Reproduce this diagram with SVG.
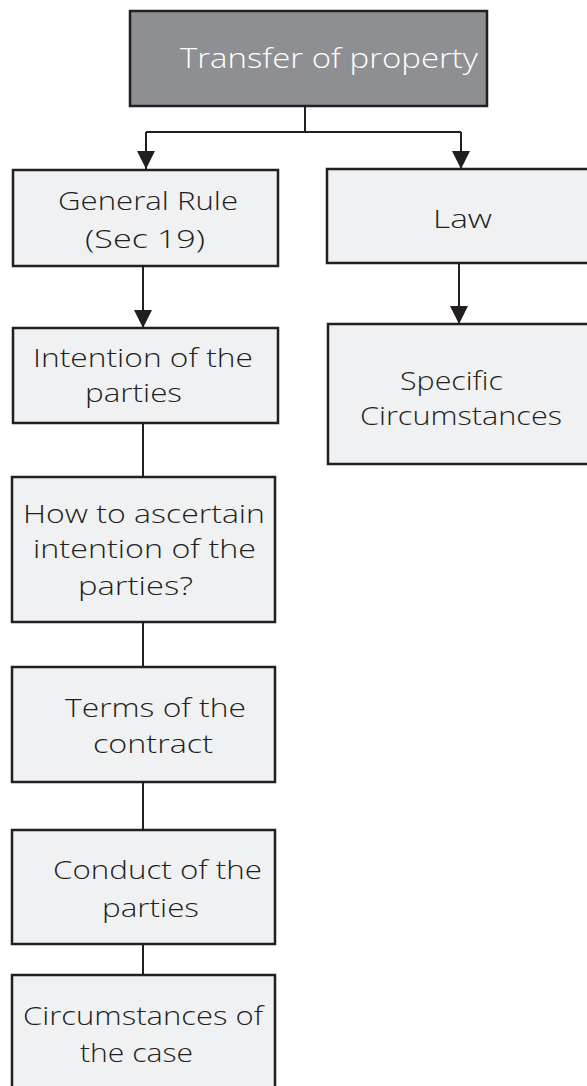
<svg xmlns="http://www.w3.org/2000/svg" width="587" height="1086" viewBox="0 0 587 1086">
  <style>
    .box { fill: #f0f1f3; stroke: #231f20; stroke-width: 2.5; }
    .root { fill: #8e8f93; stroke: #231f20; stroke-width: 2.5; }
    .lbl { font-family: "Open Sans", "Liberation Sans", sans-serif; font-weight: 300; font-size: 26px; fill: #231f20; }
    .lbl-w { font-family: "Open Sans", "Liberation Sans", sans-serif; font-weight: 300; font-size: 27px; fill: #ffffff; }
    .wire { fill: none; stroke: #231f20; stroke-width: 2; }
  </style>
  <defs>
    <marker id="arrow" markerUnits="userSpaceOnUse" markerWidth="18" markerHeight="18" viewBox="0 0 18 18" refX="18" refY="9" orient="auto">
      <path d="M0,0 L18,9 L0,18 Z" fill="#231f20"/>
    </marker>
  </defs>
  <rect width="587" height="1086" fill="#ffffff"/>

  <!-- connectors -->
  <g id="connectors">
    <path class="wire" d="M305,106 V132 M146,132 H461"/>
    <path class="wire" d="M146,132 V169" marker-end="url(#arrow)"/>
    <path class="wire" d="M461,132 V169" marker-end="url(#arrow)"/>
    <path class="wire" d="M143,266 V328" marker-end="url(#arrow)"/>
    <path class="wire" d="M459,263 V324" marker-end="url(#arrow)"/>
    <path class="wire" d="M143,423 V477 M143,622 V667 M143,782 V830 M143,944 V975"/>
  </g>

  <g id="node-transfer">
    <rect class="root" x="130" y="11" width="357" height="95"/>
    <text class="lbl-w" x="180" y="68" textLength="298" lengthAdjust="spacingAndGlyphs">Transfer of property</text>
  </g>

  <g id="node-general-rule">
    <rect class="box" x="13" y="170" width="265" height="96"/>
    <text class="lbl" x="58" y="210" textLength="180" lengthAdjust="spacingAndGlyphs">General Rule</text>
    <text class="lbl" x="85" y="248" textLength="120" lengthAdjust="spacingAndGlyphs">(Sec 19)</text>
  </g>

  <g id="node-law">
    <rect class="box" x="327" y="169" width="264" height="94"/>
    <text class="lbl" x="433" y="228" textLength="59" lengthAdjust="spacingAndGlyphs">Law</text>
  </g>

  <g id="node-specific">
    <rect class="box" x="328" y="324" width="263" height="140"/>
    <text class="lbl" x="400" y="390" textLength="103" lengthAdjust="spacingAndGlyphs">Specific</text>
    <text class="lbl" x="360" y="425" textLength="202" lengthAdjust="spacingAndGlyphs">Circumstances</text>
  </g>

  <g id="node-intention">
    <rect class="box" x="13" y="328" width="265" height="95"/>
    <text class="lbl" x="33" y="367" textLength="220" lengthAdjust="spacingAndGlyphs">Intention of the</text>
    <text class="lbl" x="85" y="402" textLength="97" lengthAdjust="spacingAndGlyphs">parties</text>
  </g>

  <g id="node-ascertain">
    <rect class="box" x="12" y="477" width="263" height="145"/>
    <text class="lbl" x="23" y="523" textLength="242" lengthAdjust="spacingAndGlyphs">How to ascertain</text>
    <text class="lbl" x="33" y="558" textLength="223" lengthAdjust="spacingAndGlyphs">intention of the</text>
    <text class="lbl" x="78" y="595" textLength="115" lengthAdjust="spacingAndGlyphs">parties?</text>
  </g>

  <g id="node-terms">
    <rect class="box" x="12" y="667" width="263" height="115"/>
    <text class="lbl" x="65" y="717" textLength="181" lengthAdjust="spacingAndGlyphs">Terms of the</text>
    <text class="lbl" x="93" y="753" textLength="120" lengthAdjust="spacingAndGlyphs">contract</text>
  </g>

  <g id="node-conduct">
    <rect class="box" x="12" y="830" width="263" height="114"/>
    <text class="lbl" x="53" y="879" textLength="209" lengthAdjust="spacingAndGlyphs">Conduct of the</text>
    <text class="lbl" x="102" y="917" textLength="97" lengthAdjust="spacingAndGlyphs">parties</text>
  </g>

  <g id="node-circumstances">
    <rect class="box" x="12" y="975" width="263" height="120"/>
    <text class="lbl" x="23" y="1025" textLength="240" lengthAdjust="spacingAndGlyphs">Circumstances of</text>
    <text class="lbl" x="80" y="1062" textLength="113" lengthAdjust="spacingAndGlyphs">the case</text>
  </g>
</svg>
